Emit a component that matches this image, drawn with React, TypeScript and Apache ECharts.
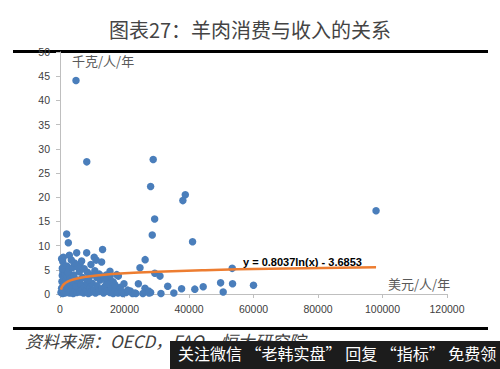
import React, { useEffect, useRef } from "react";
import * as echarts from "echarts";

// Title and texts
const TITLE = "图表27：羊肉消费与收入的关系";
const SOURCE = "资料来源：OECD，FAO，恒大研究院";
const WATERMARK = "关注微信 “老韩实盘” 回复 “指标” 免费领";
const Y_UNIT = "千克/人/年";
const X_UNIT = "美元/人/年";
const TREND_LABEL = "y = 0.8037ln(x) - 3.6853";

// Trendline coefficients (as shown in chart)
const TREND_A = 0.8037;
const TREND_B = -3.6853;
const TREND_X = [300, 500, 800, 1200, 2000, 3000, 5000, 8000, 12000, 20000, 30000, 45000, 65000, 98000];

// Scatter points: [income USD/person/year, mutton kg/person/year]
const OUTLIERS: [number, number][] = [
  [4960, 44.1], [8300, 27.3], [28900, 27.8], [28100, 22.2], [38850, 20.5], [38100, 19.3],
  [29350, 15.5], [28600, 12.2], [41100, 10.8], [26400, 7.1], [24800, 5.4], [29400, 4.3],
  [31000, 3.7], [24300, 2.1], [23500, 0.1], [26350, 1.2], [27500, 0.6], [28100, 0.3],
  [31300, 0.1], [33400, 1.6], [35300, 0.2], [37700, 1.1], [41800, 1.0], [44400, 1.5],
  [49800, 2.3], [50600, 0.4], [53400, 5.3], [53500, 2.1], [60000, 1.8], [98000, 17.2],
  [19840, 2.1], [19500, 0.1], [23250, 0.2], [25700, 0.1], [27600, 0.2], [18100, 3.7],
  [17000, 1.9], [19100, 0.5], [21000, 0.8],
];
const MID: [number, number][] = [
  [2070, 12.4], [2580, 10.6], [1030, 7.6], [840, 6.7], [720, 5.3], [2070, 5.8], [2900, 5.1],
  [5170, 8.5], [8270, 8.5], [10600, 7.6], [13200, 9.2], [12900, 6.6], [9600, 6.1], [6700, 6.8],
  [6200, 6.1], [15500, 4.7], [17600, 4.0], [3900, 5.5], [11200, 7.0], [8800, 2.9], [11400, 3.4],
  [14260, 3.9], [15500, 3.6], [16500, 2.5], [14470, 2.2], [7500, 5.2], [8500, 4.5], [9800, 3.9],
  [10800, 4.8], [12200, 4.1], [13800, 3.3], [5400, 5.6], [4500, 6.4], [3500, 7.0], [2900, 8.0],
  [500, 7.3],
];
const CLUSTER: [number, number][] = [
  [300, 0.3], [500, 1.2], [600, 2.6], [700, 3.8], [800, 0.1], [900, 4.6], [1000, 1.8], [1100, 0.6],
  [1200, 3.1], [1300, 2.2], [1400, 0.2], [1500, 4.2], [1600, 1.4], [1700, 5.0], [1800, 0.9],
  [1900, 2.8], [2000, 0.3], [2200, 3.6], [2300, 1.7], [2400, 0.5], [2600, 4.4], [2700, 2.4],
  [2800, 1.0], [3000, 0.2], [3100, 3.2], [3300, 1.9], [3500, 0.6], [3700, 2.7], [3900, 1.3],
  [4100, 0.1], [4300, 3.9], [4500, 2.1], [4700, 0.8], [5000, 1.6], [5200, 0.3], [5500, 2.9],
  [5800, 1.1], [6000, 4.6], [6200, 0.4], [6500, 2.0], [6800, 0.9], [7000, 3.4], [7300, 0.2],
  [7600, 1.5], [8000, 0.6], [8400, 2.4], [8800, 0.1], [9200, 1.2], [9600, 0.4], [10000, 2.2],
  [10500, 0.8], [11000, 0.2], [11500, 1.7], [12000, 0.5], [12500, 2.9], [13000, 1.1], [13500, 0.2],
  [14000, 1.6], [14500, 0.6], [15000, 2.5], [15500, 0.3], [16000, 1.3], [16500, 0.1], [17200, 0.9],
  [18000, 0.2], [18700, 1.4], [20500, 0.3], [21800, 0.6], [22500, 0.1],
];

const X_MIN = 0, X_MAX = 120000, X_STEP = 20000;
const Y_MIN = 0, Y_MAX = 50, Y_STEP = 5;

export default function App() {
  const ref = useRef<HTMLDivElement>(null);
  useEffect(() => {
    if (!ref.current) return;
    const chart = echarts.init(ref.current, undefined, { renderer: "svg" });
    const points = [...CLUSTER, ...MID, ...OUTLIERS];
    const trend = TREND_X.map((x) => [x, TREND_A * Math.log(x) + TREND_B]);
    const axisColor = "#bfbfbf";
    const labelStyle = { color: "#404040", fontSize: 10.5, fontFamily: "Liberation Sans, Arial, sans-serif" };
    chart.setOption({
      animation: false,
      backgroundColor: "#ffffff",
      grid: { left: 60, right: 53, top: 52, bottom: 75 },
      xAxis: {
        type: "value", min: X_MIN, max: X_MAX, interval: X_STEP,
        axisLine: { show: true, lineStyle: { color: axisColor, width: 1 } },
        axisTick: { show: true, length: 4, lineStyle: { color: axisColor } },
        splitLine: { show: false },
        axisLabel: { ...labelStyle, margin: 9, formatter: (v: number) => String(v) },
      },
      yAxis: {
        type: "value", min: Y_MIN, max: Y_MAX, interval: Y_STEP,
        axisLine: { show: true, lineStyle: { color: axisColor, width: 1 } },
        axisTick: { show: true, length: 4, lineStyle: { color: axisColor } },
        splitLine: { show: false },
        axisLabel: { ...labelStyle, margin: 10, formatter: (v: number) => String(v) },
      },
      series: [
        {
          type: "scatter", data: points, symbolSize: 7.5,
          itemStyle: { color: "#4a7ebb", opacity: 1 }, z: 2,
        },
        {
          type: "line", data: trend, smooth: true, showSymbol: false,
          lineStyle: { color: "#ED7D31", width: 2.5 }, z: 3,
        },
      ],
      graphic: [
        {
          type: "text", left: "center", top: 19,
          style: { text: TITLE, fontSize: 20, fill: "#444444", fontFamily: "Noto Sans CJK SC" },
        },
        { type: "rect", shape: { x: 13, y: 50, width: 475, height: 3 }, style: { fill: "#000" } },
        { type: "rect", shape: { x: 13, y: 327, width: 475, height: 3 }, style: { fill: "#000" } },
        {
          type: "text", x: 72, y: 54,
          style: { text: Y_UNIT, fontSize: 13, fill: "#595959", fontFamily: "Noto Sans CJK SC" },
        },
        {
          type: "text", x: 388, y: 277,
          style: { text: X_UNIT, fontSize: 13, fill: "#595959", fontFamily: "Noto Sans CJK SC" },
        },
        {
          type: "text", x: 243, y: 256,
          style: { text: TREND_LABEL, fontSize: 11, fontWeight: "bold", fill: "#000", fontFamily: "Liberation Sans, Arial, sans-serif" },
        },
        {
          type: "text", x: 25, y: 332,
          style: { text: SOURCE, fontSize: 17, fontStyle: "italic", fill: "#404040", fontFamily: "Noto Sans CJK SC" },
        },
        { type: "rect", shape: { x: 170, y: 341, width: 330, height: 28 }, style: { fill: "#1c1c1c" } },
        {
          type: "text", x: 178, y: 345,
          style: { text: WATERMARK, fontSize: 16, fill: "#ffffff", fontFamily: "Noto Sans CJK SC" },
        },
      ],
    });
    return () => chart.dispose();
  }, []);
  return <div ref={ref} style={{ position: "fixed", left: 0, top: 0, width: 500, height: 369 }} />;
}
